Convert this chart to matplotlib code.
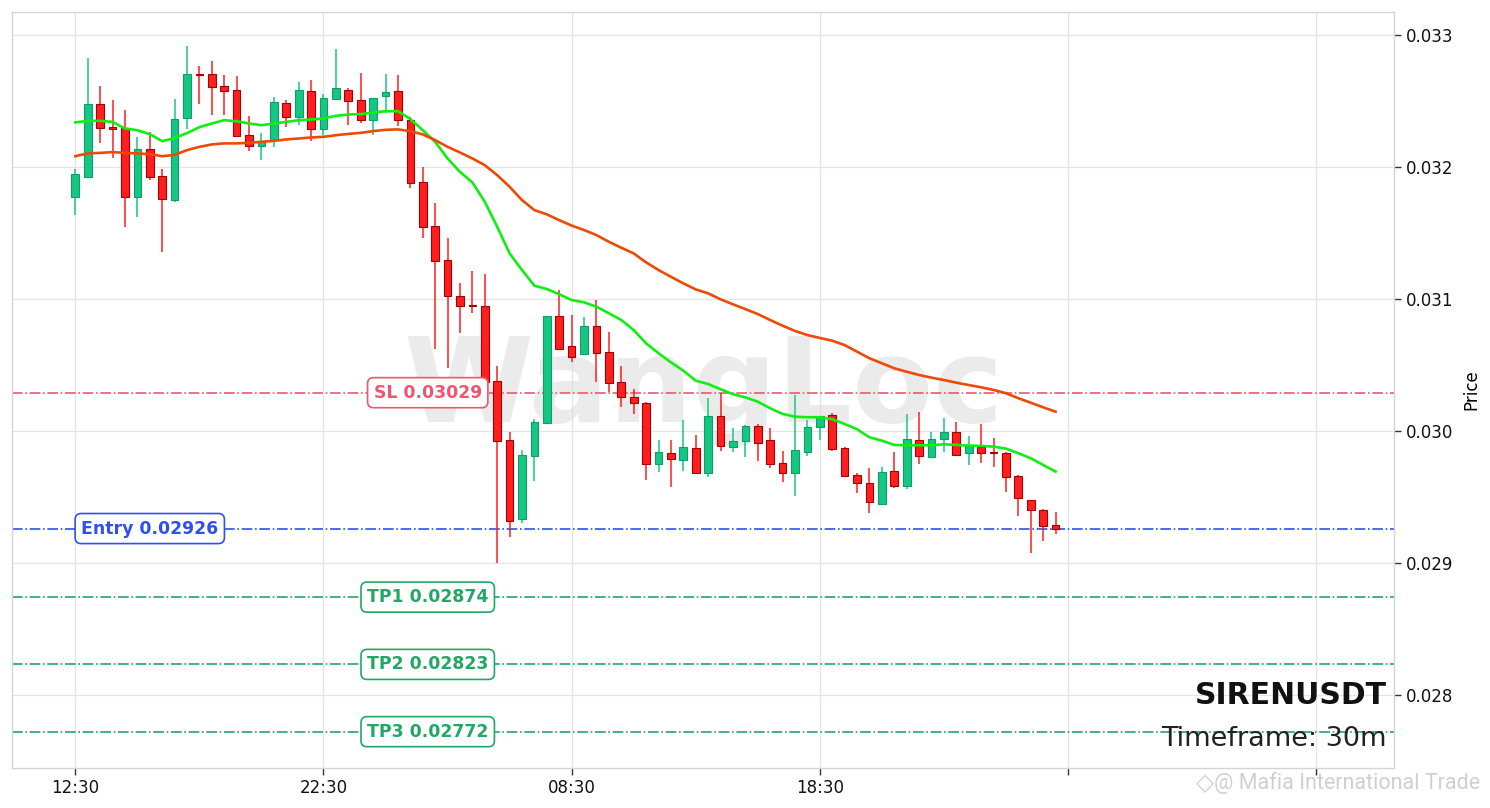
import matplotlib
matplotlib.use('Agg')
import matplotlib.pyplot as plt
import numpy as np

# ---------------- data ----------------
tick_positions = [0, 20, 40, 60, 80, 100]
tick_labels = ['12:30', '22:30', '08:30', '18:30', '', '']

opens = [0.031770, 0.031926, 0.032477, 0.032303, 0.032293, 0.031770, 0.032136, 0.031932, 0.031750, 0.032373,
         0.032705, 0.032705, 0.032614, 0.032583, 0.032240, 0.032164, 0.032205, 0.032483, 0.032381, 0.032576,
         0.032286, 0.032513, 0.032583, 0.032508, 0.032354, 0.032536, 0.032576, 0.032356, 0.031884, 0.031553,
         0.031295, 0.031023, 0.030955, 0.030950, 0.030379, 0.029932, 0.029331, 0.029813, 0.030063, 0.030871,
         0.030644, 0.030581, 0.030795, 0.030598, 0.030371, 0.030255, 0.030210, 0.029748, 0.029831, 0.029778,
         0.029869, 0.029684, 0.030114, 0.029880, 0.029926, 0.030038, 0.029929, 0.029755, 0.029679, 0.029843,
         0.030028, 0.030119, 0.029869, 0.029664, 0.029604, 0.029445, 0.029697, 0.029580, 0.029929, 0.029805,
         0.029937, 0.029990, 0.029831, 0.029881, 0.029836, 0.029836, 0.029659, 0.029477, 0.029401, 0.029288]
highs = [0.031983, 0.032831, 0.032614, 0.032508, 0.032432, 0.032225, 0.032263, 0.031983, 0.032513, 0.032917,
         0.032765, 0.032801, 0.032697, 0.032689, 0.032386, 0.032255, 0.032533, 0.032508, 0.032642, 0.032659,
         0.032551, 0.032892, 0.032600, 0.032717, 0.032523, 0.032705, 0.032697, 0.032381, 0.032002, 0.031725,
         0.031460, 0.031119, 0.031212, 0.031187, 0.030492, 0.029995, 0.029856, 0.030089, 0.030871, 0.031068,
         0.030879, 0.030861, 0.030992, 0.030748, 0.030492, 0.030316, 0.030222, 0.029929, 0.029929, 0.030086,
         0.029972, 0.030248, 0.030286, 0.030025, 0.030045, 0.030051, 0.030020, 0.029851, 0.030273, 0.030083,
         0.030114, 0.030139, 0.029881, 0.029684, 0.029717, 0.029725, 0.029839, 0.030126, 0.030146, 0.029995,
         0.030096, 0.030066, 0.029962, 0.030053, 0.029945, 0.029840, 0.029665, 0.029480, 0.029405, 0.029384]
lows = [0.031636, 0.031920, 0.032180, 0.032066, 0.031543, 0.031619, 0.031901, 0.031354, 0.031737, 0.032286,
        0.032477, 0.032394, 0.032394, 0.032235, 0.032123, 0.032053, 0.032154, 0.032301, 0.032318, 0.032197,
        0.032245, 0.032513, 0.032318, 0.032331, 0.032240, 0.032407, 0.032314, 0.031839, 0.031460, 0.030619,
        0.030475, 0.030745, 0.030892, 0.030373, 0.028998, 0.029199, 0.029305, 0.029623, 0.030063, 0.030614,
        0.030525, 0.030575, 0.030373, 0.030298, 0.030184, 0.030129, 0.029629, 0.029689, 0.029576, 0.029697,
        0.029680, 0.029649, 0.029851, 0.029839, 0.029801, 0.029775, 0.029717, 0.029616, 0.029508, 0.029811,
        0.029932, 0.029851, 0.029661, 0.029533, 0.029376, 0.029440, 0.029566, 0.029558, 0.029748, 0.029800,
        0.029839, 0.029818, 0.029742, 0.029755, 0.029725, 0.029536, 0.029356, 0.029073, 0.029167, 0.029217]
closes = [0.031947, 0.032477, 0.032298, 0.032290, 0.031775, 0.032136, 0.031926, 0.031755, 0.032364, 0.032705,
          0.032700, 0.032604, 0.032578, 0.032235, 0.032164, 0.032197, 0.032492, 0.032381, 0.032583, 0.032290,
          0.032523, 0.032598, 0.032505, 0.032354, 0.032523, 0.032568, 0.032354, 0.031881, 0.031548, 0.031290,
          0.031025, 0.030949, 0.030945, 0.030373, 0.029926, 0.029320, 0.029818, 0.030070, 0.030871, 0.030621,
          0.030563, 0.030795, 0.030589, 0.030361, 0.030255, 0.030210, 0.029748, 0.029839, 0.029786, 0.029876,
          0.029684, 0.030114, 0.029886, 0.029926, 0.030038, 0.029911, 0.029748, 0.029684, 0.029854, 0.030028,
          0.030114, 0.029864, 0.029661, 0.029604, 0.029460, 0.029687, 0.029586, 0.029937, 0.029811, 0.029937,
          0.029990, 0.029818, 0.029889, 0.029831, 0.029831, 0.029649, 0.029490, 0.029401, 0.029282, 0.029255]

ma_fast = [0.032339, 0.032351, 0.032351, 0.032343, 0.032293, 0.032280, 0.032250, 0.032197, 0.032220, 0.032258,
           0.032303, 0.032331, 0.032356, 0.032348, 0.032331, 0.032318, 0.032331, 0.032343, 0.032356, 0.032361,
           0.032369, 0.032389, 0.032399, 0.032402, 0.032414, 0.032424, 0.032424, 0.032364, 0.032280, 0.032192,
           0.032066, 0.031964, 0.031884, 0.031737, 0.031548, 0.031346, 0.031220, 0.031101, 0.031076, 0.031036,
           0.030992, 0.030975, 0.030942, 0.030892, 0.030841, 0.030765, 0.030664, 0.030589, 0.030520, 0.030457,
           0.030381, 0.030356, 0.030316, 0.030278, 0.030255, 0.030222, 0.030172, 0.030129, 0.030108, 0.030104,
           0.030104, 0.030089, 0.030053, 0.030013, 0.029952, 0.029926, 0.029894, 0.029891, 0.029891, 0.029891,
           0.029899, 0.029894, 0.029889, 0.029886, 0.029881, 0.029866, 0.029831, 0.029793, 0.029742, 0.029692]
ma_slow = [0.032083, 0.032104, 0.032108, 0.032114, 0.032108, 0.032104, 0.032098, 0.032083, 0.032093, 0.032129,
           0.032154, 0.032172, 0.032180, 0.032180, 0.032184, 0.032192, 0.032199, 0.032210, 0.032217, 0.032225,
           0.032230, 0.032242, 0.032252, 0.032260, 0.032273, 0.032283, 0.032286, 0.032273, 0.032248, 0.032205,
           0.032154, 0.032111, 0.032066, 0.032015, 0.031939, 0.031851, 0.031750, 0.031674, 0.031642, 0.031598,
           0.031557, 0.031523, 0.031485, 0.031434, 0.031389, 0.031346, 0.031278, 0.031220, 0.031169, 0.031119,
           0.031073, 0.031043, 0.030998, 0.030960, 0.030924, 0.030886, 0.030841, 0.030798, 0.030758, 0.030727,
           0.030705, 0.030684, 0.030651, 0.030601, 0.030551, 0.030513, 0.030475, 0.030449, 0.030424, 0.030404,
           0.030386, 0.030366, 0.030348, 0.030331, 0.030311, 0.030286, 0.030248, 0.030214, 0.030179, 0.030146]

level_names = ['SL', 'Entry', 'TP1', 'TP2', 'TP3']
level_values = [0.03029, 0.02926, 0.02874, 0.02823, 0.02772]
level_colors = ['#f0566f', '#2f4ff5', '#22a765', '#22a765', '#22a765']
level_label_x = [28.4, 6.0, 28.4, 28.4, 28.4]

symbol = 'SIRENUSDT'
timeframe = 'Timeframe: 30m'
watermark = 'WangLoc'
footer = '@ Mafia International Trade'

# ---------------- plot ----------------
fig = plt.figure(figsize=(14.9, 8.08), dpi=100)
ax = fig.add_axes([0.00826, 0.0499, 0.9275, 0.9349])

o = np.array(opens); h = np.array(highs); l = np.array(lows); c = np.array(closes)
x = np.arange(len(o))
up = c >= o
up_face, up_edge = '#16c784', '#0f9e66'
dn_face, dn_edge = '#ff1f1f', '#a80000'
face = np.where(up, up_face, dn_face)
edge = np.where(up, up_edge, dn_edge)

ax.vlines(x, l, h, colors=face, linewidth=1.1, zorder=3)
body_bottom = np.minimum(o, c)
body_h = np.maximum(np.abs(c - o), 0.000006)
ax.bar(x, body_h, bottom=body_bottom, width=0.62, color=face, edgecolor=edge,
       linewidth=0.8, zorder=4)

ax.plot(x, ma_fast, color='#11ee11', linewidth=1.9, zorder=5)
ax.plot(x, ma_slow, color='#ee4a06', linewidth=1.9, zorder=5)

for name, val, col, lx in zip(level_names, level_values, level_colors, level_label_x):
    ax.axhline(val, color=col, linestyle='-.', linewidth=1.2, zorder=2)
    ax.text(lx, val, f'{name} {val:.5f}', color=col, fontsize=12.4, fontweight='bold',
            ha='center', va='center', zorder=6,
            bbox=dict(boxstyle='round,pad=0.35', facecolor='white', edgecolor=col, linewidth=1.2))

ax.text(0.5, 0.5, watermark, transform=ax.transAxes, fontsize=85, fontweight='bold',
        color='#d9d9d9', alpha=0.5, ha='center', va='center', zorder=1)

ax.text(0.9947, 0.0837, symbol, transform=ax.transAxes, fontsize=21.5, fontweight='bold',
        color='#111111', ha='right', va='baseline', zorder=7)
ax.text(0.9947, 0.0287, timeframe, transform=ax.transAxes, fontsize=19.5,
        color='#222222', ha='right', va='baseline', zorder=7)

ax.set_xlim(-5.08, 106.3)
ax.set_ylim(0.027447, 0.033174)
ax.set_xticks(tick_positions)
ax.set_xticklabels(tick_labels)
ax.set_yticks([0.028, 0.029, 0.030, 0.031, 0.032, 0.033])
ax.set_yticklabels(['0.028', '0.029', '0.030', '0.031', '0.032', '0.033'])
ax.yaxis.tick_right()
ax.yaxis.set_label_position('right')
ax.set_ylabel('Price', fontsize=12, labelpad=6)
ax.tick_params(axis='both', labelsize=12, length=5, width=1, color='#333333', labelcolor='#111111')
ax.set_axisbelow(True)
ax.grid(True, color='#e4e4e4', linewidth=0.9)
for sp in ax.spines.values():
    sp.set_color('#d4d4d4')
    sp.set_linewidth(1.0)

fig.text(0.8085, 0.031, '\u25c7', fontsize=17, color='#c4c4c4', ha='center', va='center',
         alpha=0.8, family='DejaVu Sans')
fig.text(0.9935, 0.031, footer, fontsize=15.5, color='#c4c4c4', ha='right', va='center',
         alpha=0.8, family=['Roboto', 'DejaVu Sans'])

fig.savefig('out.png', dpi=100, facecolor='white')
